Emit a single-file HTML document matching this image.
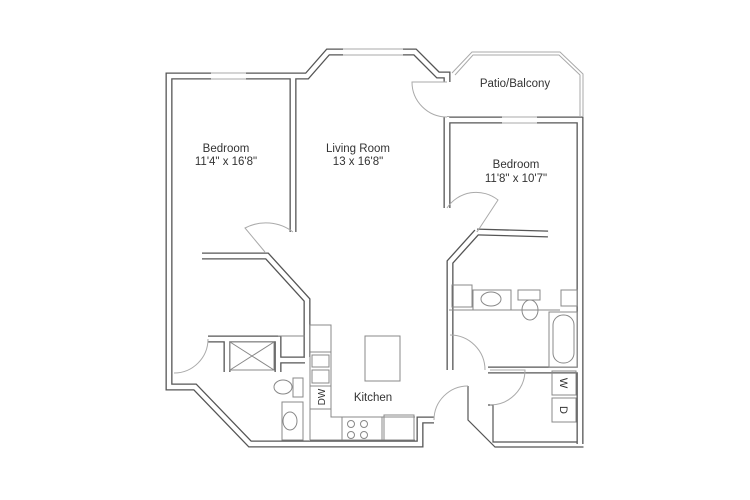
<!DOCTYPE html>
<html><head><meta charset="utf-8"><style>
html,body{margin:0;padding:0;background:#fff;}
svg{display:block;}
.w{fill:none;stroke:#555;stroke-width:7;stroke-linejoin:miter;stroke-linecap:butt;}
.wi{fill:none;stroke:#fff;stroke-width:4.4;stroke-linejoin:miter;stroke-linecap:butt;}
.d{fill:none;stroke:#555;stroke-width:1.2;}
.t{fill:none;stroke:#aaa;stroke-width:1;}
.f{fill:none;stroke:#888;stroke-width:1;}
text{font-family:"Liberation Sans",sans-serif;font-size:11.5px;fill:#333;text-anchor:middle;}
</style></head><body>
<svg width="750" height="500" viewBox="0 0 750 500" xmlns="http://www.w3.org/2000/svg">
<defs>
<g id="walls">
 <polyline points="211,76 169,76 169,387 195,387 250,444 420,444 420,420 434,420"/>
 <polyline points="246,76 307,76 328,52 343,52"/>
 <polyline points="403,52 415,52 438,75 447,75 447,82"/>
 <line x1="293" y1="76" x2="293" y2="232"/>
 <polyline points="202,256 267,256 307,300 307,357"/>
 <polyline points="208,339 278,339 278,372"/>
 <line x1="227" y1="339" x2="227" y2="372"/>
 <polyline points="278,360 305,360"/>
 <polyline points="447,117 447,208"/>
 <polyline points="447,120 502,120"/>
 <polyline points="537,120 580,120 580,444"/>
 <polyline points="477,232 548,234"/>
 <polyline points="477,232 450,262 450,370"/>
 <polyline points="488,370 580,370"/>
</g>
</defs>
<g class="w"><use href="#walls"/></g>
<g class="wi"><use href="#walls"/></g>
<g class="d">
 <polyline points="468,386 468,420 495,447 583.5,447"/>
 <polyline points="488,405 493,405 493,442 576.5,442"/>
</g>
<g class="t">
 <line x1="211" y1="73" x2="246" y2="73"/><line x1="211" y1="79" x2="246" y2="79"/>
 <line x1="343" y1="49" x2="403" y2="49"/><line x1="343" y1="55" x2="403" y2="55"/>
 <line x1="502" y1="117" x2="537" y2="117"/><line x1="502" y1="123" x2="537" y2="123"/>
 <polyline points="452,73 472,52 560,52 583,74 583,117"/>
 <polyline points="455,75 473,55 559,55 580,75 580,117"/>
 <path d="M447,82 L412,82 A35,35 0 0 0 447,117"/>
 <path d="M293,232 A45,45 0 0 0 245,228 L265,252"/>
 <path d="M447,208 A35,35 0 0 1 498,200 L477,232"/>
 <path d="M208,339 A34,34 0 0 1 174,373"/>
 <path d="M434,420 A34,34 0 0 1 468,386"/>
 <path d="M450,335 A35,35 0 0 1 485,370"/>
 <path d="M490,405 A35,35 0 0 0 525,370 L490,370"/>
</g>
<g class="f">
 <rect x="230" y="342" width="44" height="28"/>
 <line x1="230" y1="342" x2="274" y2="370"/><line x1="274" y1="342" x2="230" y2="370"/>
 <line x1="278" y1="336" x2="305" y2="336"/>
 <ellipse cx="283" cy="387" rx="9" ry="7"/>
 <rect x="293" y="378" width="10" height="19"/>
 <rect x="282" y="402" width="21" height="38"/>
 <ellipse cx="290" cy="421" rx="7" ry="9"/>
 <polyline points="310,440 310,325 331,325 331,417 415,417"/>
 <line x1="310" y1="440" x2="415" y2="440"/>
 <line x1="310" y1="352" x2="331" y2="352"/>
 <rect x="312" y="355" width="17" height="12"/>
 <rect x="312" y="370" width="17" height="13"/>
 <line x1="310" y1="386" x2="331" y2="386"/>
 <line x1="310" y1="409" x2="331" y2="409"/>
 <rect x="342" y="417" width="40" height="23"/>
 <circle cx="351" cy="424" r="3.5"/><circle cx="364" cy="424" r="3.5"/>
 <circle cx="351" cy="435" r="3.5"/><circle cx="364" cy="435" r="3.5"/>
 <rect x="384" y="415" width="30" height="25"/>
 <rect x="365" y="336" width="35" height="45"/>
 <rect x="452" y="285" width="20" height="22"/>
 <rect x="473" y="290" width="38" height="20"/>
 <ellipse cx="491" cy="299" rx="10" ry="7"/>
 <rect x="518" y="290" width="22" height="10"/>
 <ellipse cx="530" cy="310" rx="8" ry="10"/>
 <rect x="561" y="290" width="16" height="16"/>
 <rect x="549" y="312" width="28" height="55"/>
 <rect x="553" y="315" width="21" height="48" rx="10"/>
 <line x1="449" y1="310" x2="560" y2="310"/>
 <rect x="552" y="371" width="24" height="24"/>
 <rect x="552" y="398" width="24" height="24"/>
</g>
<text x="226" y="152">Bedroom</text>
<text x="226" y="165">11'4" x 16'8"</text>
<text x="358" y="152">Living Room</text>
<text x="358" y="165">13 x 16'8"</text>
<text x="516" y="168">Bedroom</text>
<text x="516" y="182">11'8" x 10'7"</text>
<text x="515" y="87">Patio/Balcony</text>
<text x="373" y="401">Kitchen</text>
<text transform="translate(325,397) rotate(-90)" style="font-size:10px">DW</text>
<text transform="translate(560,383) rotate(90)" style="font-size:11px">W</text>
<text transform="translate(560,410) rotate(90)" style="font-size:11px">D</text>
</svg>
</body></html>
